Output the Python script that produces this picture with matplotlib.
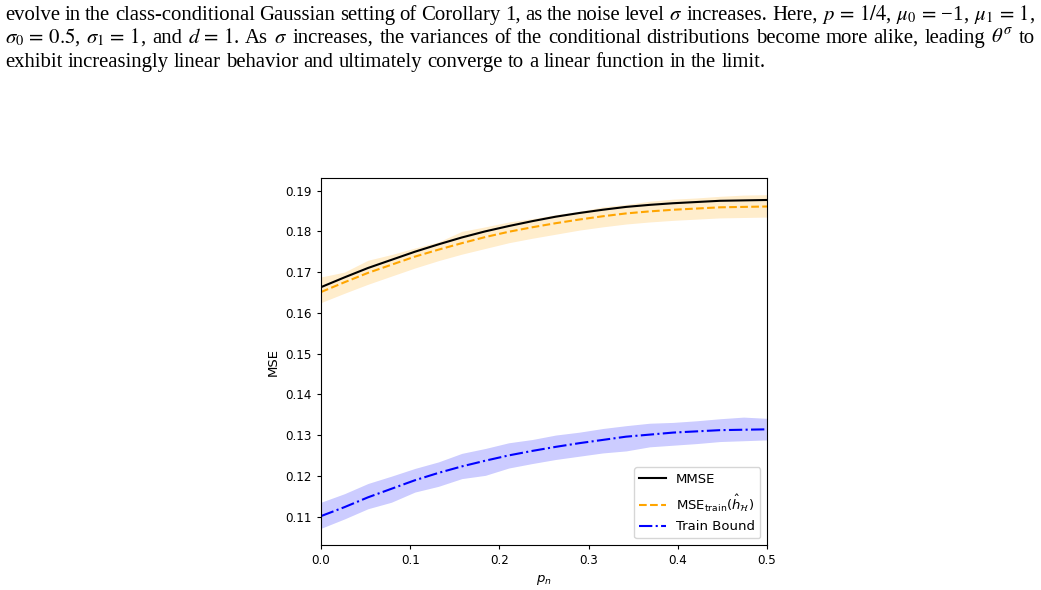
import re
import numpy as np
import matplotlib
matplotlib.use("Agg")
import matplotlib.pyplot as plt
from matplotlib.ticker import MultipleLocator

## data
p_n = [0.0, 0.0263, 0.0526, 0.0789, 0.1053, 0.1316, 0.1579, 0.1842, 0.2105, 0.2368,
       0.2632, 0.2895, 0.3158, 0.3421, 0.3684, 0.3947, 0.4211, 0.4474, 0.4737, 0.5]

mmse = [0.1663, 0.1687, 0.1710, 0.1730, 0.1750, 0.1768, 0.1785, 0.1800, 0.1813, 0.1825,
        0.1836, 0.1845, 0.1853, 0.1860, 0.1865, 0.1869, 0.1872, 0.1875, 0.1876, 0.1877]

mse_train = [0.1651, 0.1675, 0.1698, 0.1718, 0.1738, 0.1755, 0.1771, 0.1786, 0.1799, 0.1810,
             0.1820, 0.1829, 0.1837, 0.1844, 0.1849, 0.1853, 0.1856, 0.1859, 0.1860, 0.1861]
mse_train_hi = [0.1688, 0.1700, 0.1729, 0.1743, 0.1759, 0.1774, 0.1800, 0.1811, 0.1823, 0.1831,
                0.1841, 0.1849, 0.1860, 0.1866, 0.1874, 0.1879, 0.1882, 0.1886, 0.1889, 0.1890]
mse_train_lo = [0.1625, 0.1648, 0.1670, 0.1690, 0.1710, 0.1728, 0.1744, 0.1758, 0.1772, 0.1783,
                0.1793, 0.1803, 0.1811, 0.1818, 0.1823, 0.1827, 0.1830, 0.1833, 0.1834, 0.1835]

bound = [0.1101, 0.1123, 0.1147, 0.1168, 0.1189, 0.1207, 0.1223, 0.1237, 0.1250, 0.1261,
         0.1271, 0.1280, 0.1288, 0.1296, 0.1301, 0.1306, 0.1309, 0.1312, 0.1313, 0.1314]
bound_hi = [0.1135, 0.1156, 0.1181, 0.1199, 0.1218, 0.1234, 0.1255, 0.1267, 0.1281, 0.1289,
            0.1300, 0.1307, 0.1316, 0.1323, 0.1329, 0.1331, 0.1335, 0.1340, 0.1344, 0.1341]
bound_lo = [0.1071, 0.1094, 0.1119, 0.1135, 0.1160, 0.1174, 0.1193, 0.1201, 0.1219, 0.1230,
            0.1240, 0.1248, 0.1256, 0.1261, 0.1271, 0.1275, 0.1279, 0.1284, 0.1286, 0.1288]

caption = [
    r"evolve in the class-conditional Gaussian setting of Corollary 1, as the noise level $\sigma$ increases. Here, $p\,=\,1/4$, $\mu_0\,=\,$−1, $\mu_1\,=\,1$,",
    r"$\sigma_0\,=\,0.5$, $\sigma_1\,=\,1$, and $d\,=\,1$. As $\sigma$ increases, the variances of the conditional distributions become more alike, leading $\theta^\sigma$ to",
    r"exhibit increasingly linear behavior and ultimately converge to a linear function in the limit.",
]

W, H = 1041, 590
fs_cap = 14.95
fig = plt.figure(figsize=(W / 100, H / 100), dpi=100)

## caption text, justified like the paper
renderer = fig.canvas.get_renderer()
baselines = [20, 43, 67]
for k, line in enumerate(caption):
    words = re.findall(r"(?:\$[^$]*\$|\S)+", line)
    texts = [fig.text(0, 1 - baselines[k] / H, w, fontsize=fs_cap, family="Liberation Serif",
                      math_fontfamily="stix", va="baseline", ha="left") for w in words]
    widths = [t.get_window_extent(renderer).width for t in texts]
    if k < 2:
        gap = (1035 - 5 - sum(widths)) / (len(words) - 1)
    else:
        gap = fs_cap * 0.25 * 100 / 72
    xpos = 5
    for t, w in zip(texts, widths):
        t.set_x(xpos / W)
        xpos += w + gap

## plot
ax = fig.add_axes([321 / W, 1 - 545 / H, (767 - 321) / W, (545 - 178) / H])

ax.plot(p_n, mmse, "k-", lw=1.5, label="MMSE")
ax.plot(p_n, mse_train, "--", color="orange", lw=1.5, label=r"MSE$_{\rm train}(\hat{h}_{\mathcal{H}})$")
ax.fill_between(p_n, mse_train_lo, mse_train_hi, color="orange", alpha=0.2, lw=0)
ax.plot(p_n, bound, "-.", color="blue", lw=1.5, label="Train Bound")
ax.fill_between(p_n, bound_lo, bound_hi, color="blue", alpha=0.2, lw=0)

ax.set_xlim(0.0, 0.5)
ax.yaxis.set_major_locator(MultipleLocator(0.01))
ax.set_xlabel(r"$p_n$", fontsize=9.5)
ax.set_ylabel("MSE", fontsize=9.5)
ax.tick_params(labelsize=8.6, length=3)
ax.legend(loc="lower right", fontsize=9.5)

plt.savefig("out.png", dpi=100)
plt.close(fig)
